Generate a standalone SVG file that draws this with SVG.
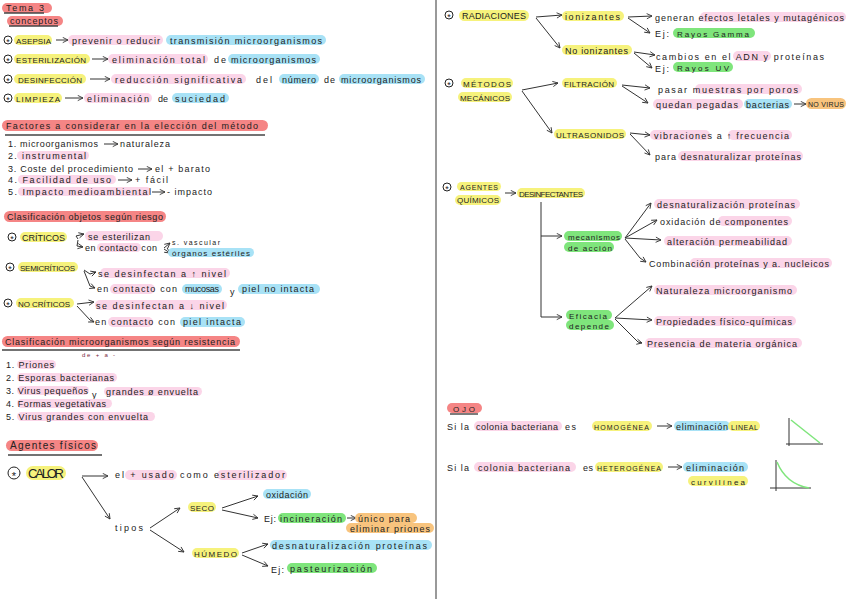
<svg xmlns="http://www.w3.org/2000/svg" xmlns:xlink="http://www.w3.org/1999/xlink" width="848" height="599" viewBox="0 0 848 599">
<style>
text{font-family:"Liberation Sans","DejaVu Sans",sans-serif;font-size:9px;fill:#222}
.s8{font-size:8px}.s7{font-size:7px}.big{font-size:13px}
.y{fill:#f6f27c}.p{fill:#fbd5e8}.b{fill:#a8e2f6}.g{fill:#7fe57c}.r{fill:#f58585}.o{fill:#f8c47e}
.ln{stroke:#333;fill:none;stroke-width:1}
.ul{stroke:#444;stroke-width:1.4}
.st{fill:none;stroke:#222;stroke-width:1}
</style>
<defs>
<marker id="a" viewBox="0 0 8 8" refX="7" refY="4" markerWidth="7" markerHeight="7" orient="auto" markerUnits="userSpaceOnUse"><path d="M1,1 L7,4 L1,7" fill="none" stroke="#333" stroke-width="1"/></marker>
<g id="star"><circle r="4" class="st"/><text y="5.2" text-anchor="middle" style="font-size:9px">*</text></g>
</defs>
<rect width="848" height="599" fill="#fff"/>
<line x1="436" y1="0" x2="436" y2="599" stroke="#999" stroke-width="2"/>

<g id="connectors" class="ln" marker-end="url(#a)">
<path d="M56,40 H68"/><path d="M92,59 H108"/><path d="M90,79 H110"/><path d="M65,98 H83"/>
<path d="M104,144 H118"/><path d="M138,169 H152"/><path d="M118,180 H132"/><path d="M152,192 H165"/>
<path d="M78,239 L76,236 L84,234"/><path d="M78,240 L77,246 L83,247"/>
<path d="M164,248 L170,243"/><path d="M164,249 L170,253"/>
<path d="M84,270 L90,274 L96,272"/><path d="M84,271 L90,286 L95,288"/>
<path d="M77,304 L94,302"/><path d="M77,306 L90,320 L94,322"/>
<path d="M82,476 H108"/><path d="M82,477 L110,519"/>
<path d="M150,528 L180,508"/><path d="M150,530 L184,552"/>
<path d="M222,508 L258,496"/><path d="M222,510 L258,518"/><path d="M347,518 H356"/>
<path d="M242,553 L268,544"/><path d="M242,555 L268,566"/>
<path d="M536,17 L562,15"/><path d="M536,18 L560,48"/>
<path d="M628,17 L652,16"/><path d="M628,18 L650,33"/>
<path d="M634,52 L655,55"/><path d="M634,53 L652,68"/>
<path d="M522,90 L558,83"/><path d="M522,91 L552,133"/>
<path d="M622,85 L650,88"/><path d="M622,86 L648,103"/><path d="M794,104 H806"/>
<path d="M630,133 L650,135"/><path d="M630,134 L650,155"/>
<path d="M505,193 H516"/>
<path d="M541,236 H562"/><path d="M541,202 V317 H562"/>
<path d="M625,238 L651,203"/><path d="M625,238 L657,220"/><path d="M625,238 L661,240"/><path d="M625,239 L640,258 L646,262"/>
<path d="M615,318 L652,286"/><path d="M615,318 L652,320"/><path d="M615,319 L638,342 L642,343"/>
<path d="M657,426 H672"/><path d="M668,467 H682"/>
</g>

<g id="titulo">
<rect x="2" y="3" width="50" height="10" rx="5" class="r"/><text x="6" y="11" textLength="38">Tema 3</text><line x1="4" y1="13" x2="44" y2="13" class="ul"/>
<rect x="7" y="16" width="56" height="10" rx="5" class="r"/><text x="10" y="24" textLength="48">conceptos</text><line x1="9" y1="26" x2="58" y2="26" class="ul"/>
</g>

<g id="asepsia">
<use xlink:href="#star" x="8" y="40"/>
<rect x="14" y="35" width="38" height="10" rx="5" class="y"/><text x="16" y="43.5" textLength="35" class="s8">ASEPSIA</text>
<rect x="68" y="35" width="95" height="10" rx="5" class="p"/><text x="72" y="43.5" textLength="88">prevenir o reducir</text>
<rect x="166" y="35" width="160" height="10" rx="5" class="b"/><text x="170" y="43.5" textLength="152">transmisión microorganismos</text>
</g>
<g id="esterilizacion">
<use xlink:href="#star" x="8" y="59"/>
<rect x="14" y="54" width="76" height="10" rx="5" class="y"/><text x="16" y="62.5" textLength="70" class="s8">ESTERILIZACIÓN</text>
<rect x="108" y="54" width="100" height="10" rx="5" class="p"/><text x="112" y="62.5" textLength="93">eliminación total</text>
<text x="214" y="62.5" textLength="12">de</text>
<rect x="228" y="54" width="92" height="10" rx="5" class="b"/><text x="231" y="62.5" textLength="85">microorganismos</text>
</g>
<g id="desinfeccion">
<use xlink:href="#star" x="8" y="79"/>
<rect x="14" y="74" width="72" height="10" rx="5" class="y"/><text x="18" y="82.5" textLength="64" class="s8">DESINFECCIÓN</text>
<rect x="111" y="74" width="135" height="10" rx="5" class="p"/><text x="115" y="82.5" textLength="127">reducción significativa</text>
<text x="256" y="82.5" textLength="16">del</text>
<rect x="279" y="74" width="40" height="10" rx="5" class="b"/><text x="282" y="82.5" textLength="34">número</text>
<text x="324" y="82.5" textLength="11">de</text>
<rect x="339" y="74" width="86" height="10" rx="5" class="b"/><text x="341" y="82.5" textLength="80">microorganismos</text>
</g>
<g id="limpieza">
<use xlink:href="#star" x="8" y="98"/>
<rect x="14" y="93" width="48" height="10" rx="5" class="y"/><text x="16" y="101.5" textLength="44" class="s8">LIMPIEZA</text>
<rect x="84" y="93" width="68" height="10" rx="5" class="p"/><text x="87" y="101.5" textLength="62">eliminación</text>
<text x="158" y="101.5" textLength="10">de</text>
<rect x="172" y="93" width="57" height="10" rx="5" class="b"/><text x="175" y="101.5" textLength="50">suciedad</text>
</g>

<g id="factores">
<rect x="2" y="120" width="266" height="11" rx="5.5" class="r"/><text x="6" y="129" textLength="252">Factores a considerar en la elección del método</text>
<line x1="5" y1="135" x2="265" y2="135" class="ul"/>
<text x="8" y="147" textLength="90">1. microorganismos</text><text x="120" y="147" textLength="50">naturaleza</text>
<rect x="17" y="151" width="72" height="9" rx="4.5" class="p"/><text x="8" y="159" textLength="78">2. instrumental</text>
<text x="8" y="172" textLength="125">3. Coste del procedimiento</text><text x="155" y="172" textLength="55">el + barato</text>
<rect x="18" y="175" width="98" height="9" rx="4.5" class="p"/><text x="8" y="183" textLength="103">4. Facilidad de uso</text><text x="135" y="183" textLength="33">+ fácil</text>
<rect x="18" y="187" width="133" height="9" rx="4.5" class="p"/><text x="8" y="195" textLength="143">5. Impacto medioambiental</text><text x="167" y="195" textLength="45">- impacto</text>
</g>

<g id="clasif-objetos">
<rect x="4" y="211" width="162" height="11" rx="5.5" class="r"/><text x="7" y="220" textLength="156">Clasificación objetos según riesgo</text>
</g>
<g id="criticos">
<use xlink:href="#star" x="12" y="237"/>
<rect x="20" y="232" width="47" height="10" rx="5" class="y"/><text x="22" y="240.5" textLength="43">CRÍTICOS</text>
<rect x="85" y="231" width="78" height="10" rx="5" class="p"/><text x="88" y="239.5" textLength="62">se esterilizan</text>
<rect x="97" y="243" width="44" height="9" rx="4.5" class="p"/><text x="85" y="250.5" textLength="72">en contacto con</text>
<text x="172" y="245" textLength="48" class="s7">s. vascular</text>
<rect x="168" y="248" width="86" height="9" rx="4.5" class="b"/><text x="172" y="255.5" textLength="78" class="s8">órganos estériles</text>
</g>
<g id="semicriticos">
<use xlink:href="#star" x="10" y="267"/>
<rect x="18" y="262" width="60" height="10" rx="5" class="y"/><text x="20" y="270.5" textLength="55" class="s8">SEMICRÍTICOS</text>
<rect x="100" y="268" width="130" height="10" rx="5" class="p"/><text x="98" y="276.5" textLength="128">se desinfectan a ↑ nivel</text>
<rect x="110" y="284" width="45" height="10" rx="5" class="p"/><text x="97" y="292" textLength="80">en contacto con</text>
<rect x="182" y="284" width="40" height="10" rx="5" class="b"/><text x="185" y="292" textLength="34">mucosas</text>
<text x="230" y="295">y</text>
<rect x="238" y="284" width="82" height="10" rx="5" class="b"/><text x="242" y="292" textLength="72">piel no intacta</text>
</g>
<g id="no-criticos">
<use xlink:href="#star" x="8" y="303"/>
<rect x="16" y="298" width="58" height="10" rx="5" class="y"/><text x="18" y="306.5" textLength="52" class="s8">NO CRÍTICOS</text>
<rect x="95" y="300" width="132" height="10" rx="5" class="p"/><text x="96" y="308.5" textLength="128">se desinfectan a ↓ nivel</text>
<rect x="108" y="317" width="45" height="10" rx="5" class="p"/><text x="95" y="325" textLength="80">en contacto con</text>
<rect x="180" y="317" width="65" height="10" rx="5" class="b"/><text x="183" y="325" textLength="58">piel intacta</text>
</g>

<g id="clasif-microorganismos">
<rect x="2" y="336" width="238" height="11" rx="5.5" class="r"/><text x="5" y="345" textLength="230">Clasificación microorganismos según resistencia</text>
<line x1="2" y1="350" x2="240" y2="350" class="ul"/>
<text x="82" y="357" class="s7" style="fill:#7a1f3d;font-size:6px" textLength="33">de + a -</text>
<rect x="17" y="360" width="39" height="9" rx="4.5" class="p"/><text x="6" y="368" textLength="48">1. Priones</text>
<rect x="17" y="373" width="100" height="9" rx="4.5" class="p"/><text x="6" y="381" textLength="108">2. Esporas bacterianas</text>
<rect x="17" y="386" width="72" height="9" rx="4.5" class="p"/><text x="6" y="394" textLength="82">3. Virus pequeños</text>
<text x="92" y="398">y</text>
<rect x="104" y="387" width="98" height="9" rx="4.5" class="p"/><text x="106" y="395" textLength="92">grandes ø envuelta</text>
<rect x="17" y="399" width="95" height="9" rx="4.5" class="p"/><text x="6" y="407" textLength="100">4. Formas vegetativas</text>
<rect x="17" y="412" width="138" height="9" rx="4.5" class="p"/><text x="6" y="420" textLength="142">5. Virus grandes con envuelta</text>
</g>

<g id="agentes-fisicos">
<rect x="6" y="440" width="92" height="11" rx="5.5" class="r"/><text x="10" y="449" textLength="86" style="font-size:10px">Agentes físicos</text>
<line x1="8" y1="455" x2="102" y2="455" class="ul"/>
</g>
<g id="calor">
<circle cx="14" cy="473" r="6" class="st"/><text x="14" y="479.5" text-anchor="middle" style="font-size:11px">*</text>
<rect x="26" y="466" width="40" height="14" rx="7" class="y"/><text x="28" y="478" textLength="36" class="big">CALOR</text>
</g>
<g id="usado">
<rect x="125" y="470" width="52" height="10" rx="5" class="p"/><rect x="217" y="470" width="70" height="10" rx="5" class="p"/>
<text x="115" y="478" textLength="170">el + usado como esterilizador</text>
</g>
<g id="tipos"><text x="115" y="531" textLength="28">tipos</text></g>
<g id="seco"><rect x="188" y="502" width="28" height="10" rx="5" class="y"/><text x="190" y="510.5" textLength="24" class="s8">SECO</text></g>
<g id="oxidacion"><rect x="263" y="489" width="48" height="10" rx="5" class="b"/><text x="266" y="497.5" textLength="42">oxidación</text></g>
<g id="incineracion">
<text x="264" y="522" textLength="12">Ej:</text>
<rect x="278" y="513" width="68" height="10" rx="5" class="g"/><text x="280" y="521.5" textLength="62">incineración</text>
<rect x="355" y="513" width="62" height="10" rx="5" class="o"/><text x="358" y="521.5" textLength="52">único para</text>
<rect x="346" y="523" width="88" height="10" rx="5" class="o"/><text x="350" y="531.5" textLength="80">eliminar priones</text>
</g>
<g id="humedo"><rect x="192" y="548" width="47" height="10" rx="5" class="y"/><text x="194" y="556.5" textLength="43" class="s8">HÚMEDO</text></g>
<g id="desnat-h"><rect x="270" y="540" width="162" height="10" rx="5" class="b"/><text x="272" y="548.5" textLength="155">desnaturalización proteínas</text></g>
<g id="pasteurizacion">
<text x="271" y="573" textLength="13">Ej:</text>
<rect x="287" y="563" width="90" height="10" rx="5" class="g"/><text x="290" y="571.5" textLength="82">pasteurización</text>
</g>

<g id="radiaciones">
<use xlink:href="#star" x="449" y="15"/>
<rect x="459" y="10" width="70" height="11" rx="5.5" class="y"/><text x="462" y="19" textLength="64">RADIACIONES</text>
</g>
<g id="ionizantes"><rect x="562" y="11" width="62" height="10" rx="5" class="y"/><text x="565" y="19.5" textLength="55">ionizantes</text></g>
<g id="no-ionizantes"><rect x="562" y="45" width="70" height="10" rx="5" class="y"/><text x="565" y="53.5" textLength="63">No ionizantes</text></g>
<g id="generan">
<rect x="700" y="12" width="146" height="10" rx="5" class="p"/>
<text x="655" y="20.5" textLength="189">generan efectos letales y mutagénicos</text>
</g>
<g id="gamma">
<text x="655" y="37" textLength="14">Ej:</text>
<rect x="673" y="28" width="82" height="10" rx="5" class="g"/><text x="677" y="36.5" textLength="72" class="s8">Rayos Gamma</text>
</g>
<g id="cambios">
<rect x="733" y="51" width="38" height="10" rx="5" class="p"/>
<text x="656" y="59.5" textLength="168">cambios en el ADN y proteínas</text>
</g>
<g id="uv">
<text x="655" y="72" textLength="14">Ej:</text>
<rect x="673" y="62" width="60" height="10" rx="5" class="g"/><text x="677" y="70.5" textLength="52" class="s8">Rayos UV</text>
</g>

<g id="metodos-mecanicos">
<use xlink:href="#star" x="449" y="83"/>
<rect x="461" y="78" width="52" height="10" rx="5" class="y"/><text x="463" y="86.5" textLength="48" class="s8">MÉTODOS</text>
<rect x="458" y="92" width="54" height="10" rx="5" class="y"/><text x="460" y="100.5" textLength="50" class="s8">MECÁNICOS</text>
</g>
<g id="filtracion"><rect x="562" y="78" width="55" height="10" rx="5" class="y"/><text x="564" y="86.5" textLength="50" class="s8">FILTRACIÓN</text></g>
<g id="ultrasonidos"><rect x="554" y="129" width="72" height="10" rx="5" class="y"/><text x="556" y="137.5" textLength="68" class="s8">ULTRASONIDOS</text></g>
<g id="pasar">
<rect x="695" y="84" width="107" height="10" rx="5" class="p"/>
<text x="658" y="92.5" textLength="140">pasar muestras por poros</text>
</g>
<g id="quedan">
<rect x="653" y="99" width="90" height="10" rx="5" class="p"/><text x="656" y="107.5" textLength="82">quedan pegadas</text>
<rect x="744" y="99" width="48" height="10" rx="5" class="b"/><text x="746" y="107.5" textLength="43">bacterias</text>
<rect x="806" y="98" width="40" height="11" rx="5.5" class="o"/><text x="808" y="106.5" textLength="36" class="s7">NO VIRUS</text>
</g>
<g id="vibraciones">
<rect x="650" y="130" width="60" height="10" rx="5" class="p"/><rect x="728" y="130" width="64" height="10" rx="5" class="p"/>
<text x="654" y="138.5" textLength="135">vibraciones a ↑ frecuencia</text>
</g>
<g id="para-desnat">
<rect x="678" y="151" width="125" height="10" rx="5" class="p"/>
<text x="655" y="159.5" textLength="146">para desnaturalizar proteínas</text>
</g>

<g id="agentes-quimicos">
<use xlink:href="#star" x="447" y="187"/>
<rect x="457" y="182" width="44" height="9" rx="4.5" class="y"/><text x="460" y="189.5" textLength="38" class="s7">AGENTES</text>
<rect x="455" y="195" width="46" height="10" rx="5" class="y"/><text x="457" y="203" textLength="42" class="s8">QUÍMICOS</text>
</g>
<g id="desinfectantes"><rect x="517" y="188" width="68" height="10" rx="5" class="y"/><text x="519" y="196.5" textLength="64" class="s8">DESINFECTANTES</text></g>
<g id="mecanismos">
<rect x="564" y="231" width="58" height="10" rx="5" class="g"/><text x="568" y="239.5" textLength="52" class="s8">mecanismos</text>
<rect x="564" y="242" width="50" height="10" rx="5" class="g"/><text x="568" y="250.5" textLength="44" class="s8">de acción</text>
</g>
<g id="desnat-q"><rect x="654" y="199" width="146" height="10" rx="5" class="p"/><text x="657" y="207.5" textLength="138">desnaturalización proteínas</text></g>
<g id="oxid-comp"><rect x="718" y="216" width="74" height="10" rx="5" class="p"/><text x="660" y="224.5" textLength="128">oxidación de componentes</text></g>
<g id="alteracion"><rect x="664" y="236" width="128" height="10" rx="5" class="p"/><text x="667" y="244.5" textLength="120">alteración permeabilidad</text></g>
<g id="combinacion"><rect x="690" y="258" width="142" height="10" rx="5" class="p"/><text x="649" y="266.5" textLength="180">Combinación proteínas y a. nucleicos</text></g>
<g id="eficacia">
<rect x="566" y="310" width="46" height="10" rx="5" class="g"/><text x="569" y="318.5" textLength="38" class="s8">Eficacia</text>
<rect x="566" y="320" width="48" height="10" rx="5" class="g"/><text x="569" y="328.5" textLength="40" class="s8">depende</text>
</g>
<g id="naturaleza"><rect x="654" y="285" width="143" height="10" rx="5" class="p"/><text x="656" y="293.5" textLength="136">Naturaleza microorganismo</text></g>
<g id="propiedades"><rect x="654" y="316" width="142" height="10" rx="5" class="p"/><text x="656" y="324.5" textLength="136">Propiedades físico-químicas</text></g>
<g id="presencia"><rect x="645" y="338" width="157" height="10" rx="5" class="p"/><text x="647" y="346.5" textLength="150">Presencia de materia orgánica</text></g>

<g id="ojo">
<rect x="447" y="403" width="35" height="10" rx="5" class="r"/><text x="453" y="411.5" textLength="22" class="s8">OJO</text>
<line x1="450" y1="414" x2="478" y2="414" class="ul"/>
</g>
<g id="homogenea">
<text x="447" y="429.5" textLength="22">Si la</text>
<rect x="474" y="421" width="88" height="10" rx="5" class="p"/><text x="476" y="429.5" textLength="82">colonia bacteriana</text>
<text x="565" y="429.5" textLength="11">es</text>
<rect x="592" y="421" width="60" height="10" rx="5" class="y"/><text x="594" y="429.5" textLength="55" class="s7">HOMOGÉNEA</text>
<rect x="674" y="421" width="56" height="10" rx="5" class="b"/><text x="676" y="429.5" textLength="52">eliminación</text>
<rect x="728" y="421" width="32" height="10" rx="5" class="y"/><text x="731" y="429.5" textLength="27" class="s7">LINEAL</text>
</g>
<g id="grafica-lineal">
<line x1="789" y1="418" x2="789" y2="446" stroke="#333"/><line x1="786" y1="444" x2="823" y2="444" stroke="#333"/>
<line x1="791" y1="420" x2="820" y2="443" stroke="#7fe57c" stroke-width="1.5"/>
</g>
<g id="heterogenea">
<text x="447" y="470.5" textLength="22">Si la</text>
<rect x="474" y="462" width="102" height="10" rx="5" class="p"/><text x="478" y="470.5" textLength="92">colonia bacteriana</text>
<text x="583" y="470.5" textLength="10">es</text>
<rect x="595" y="462" width="68" height="10" rx="5" class="y"/><text x="597" y="470.5" textLength="64" class="s7">HETEROGÉNEA</text>
<rect x="683" y="462" width="65" height="10" rx="5" class="b"/><text x="686" y="470.5" textLength="58">eliminación</text>
<rect x="688" y="476" width="60" height="10" rx="5" class="y"/><text x="691" y="484.5" textLength="54" class="s8">curvilínea</text>
</g>
<g id="grafica-curva">
<line x1="776" y1="460" x2="776" y2="491" stroke="#333"/><line x1="770" y1="488" x2="811" y2="488" stroke="#333"/>
<path d="M777,462 Q786,484 809,488" fill="none" stroke="#7fe57c" stroke-width="1.5"/>
</g>
</svg>
